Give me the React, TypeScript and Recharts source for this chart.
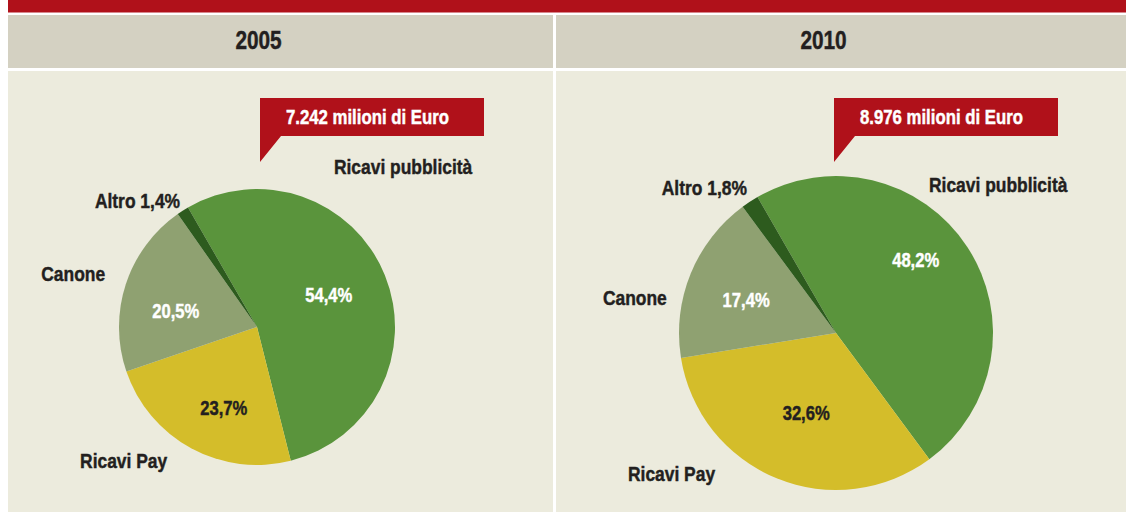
import React from 'react';
import { PieChart, Pie, Cell } from 'recharts';

const categories = ['Ricavi pubblicità', 'Ricavi Pay', 'Canone', 'Altro'];
const share2005 = [54.4, 23.7, 20.5, 1.4];
const share2010 = [48.2, 32.6, 17.4, 1.8];
const years = ['2005', '2010'];
const totals = ['7.242 milioni di Euro', '8.976 milioni di Euro'];

const COLORS = ['#5a943c', '#d4bd2a', '#8fa171', '#2d5b1e'];
const INNER_TEXT = ['#ffffff', '#231f20', '#ffffff', '#ffffff'];
const DARK = '#231f20';
const RED = '#b0111a';
const FONT = "'Liberation Sans', Arial, sans-serif";
const SX = 0.83;

const fmt = (v: number) => v.toFixed(1).replace('.', ',') + '%';

type OuterCfg = { angle: number; gap: number; anchor: 'start' | 'end' };
type InnerCfg = { dAngle: number; ratio: number } | null;

function CText(props: { x: number; y: number; anchor?: string; size: number; fill: string; dy?: string; sx?: number; children: any }) {
  const { x, y, anchor = 'start', size, fill, dy, sx = SX, children } = props;
  return (
    <text transform={`translate(${x},${y}) scale(${sx},1)`} x={0} y={0} dy={dy} textAnchor={anchor as any} fill={fill}
      stroke={fill} strokeWidth={0.45}
      style={{ fontFamily: FONT, fontWeight: 700, fontSize: size }}>
      {children}
    </text>
  );
}

const layouts = [
  {
    cx: 257, cy: 327, r: 138,
    headerX: 258.5, calloutX: 260,
    outer: [
      { angle: 64.4, gap: 40, anchor: 'start' },
      { angle: -123.9, gap: 23, anchor: 'end' },
      { angle: 160.6, gap: 23, anchor: 'end' },
      { angle: 121.2, gap: 10.5, anchor: 'end' },
    ] as OuterCfg[],
    inner: [
      { dAngle: 2.2, ratio: 0.57 },
      { dAngle: 6, ratio: 0.63 },
      { dAngle: 6.8, ratio: 0.6 },
      null,
    ] as InnerCfg[],
  },
  {
    cx: 836, cy: 333, r: 157,
    headerX: 823.5, calloutX: 834,
    outer: [
      { angle: 57.9, gap: 18, anchor: 'start' },
      { angle: -130.8, gap: 28, anchor: 'end' },
      { angle: 168, gap: 16, anchor: 'end' },
      { angle: 121.4, gap: 14, anchor: 'end' },
    ] as OuterCfg[],
    inner: [
      { dAngle: 9.4, ratio: 0.69 },
      { dAngle: 1.6, ratio: 0.54 },
      { dAngle: 2, ratio: 0.61 },
      null,
    ] as InnerCfg[],
  },
];

const RAD = Math.PI / 180;

function makeLabel(li: number) {
  const lay = layouts[li];
  return (props: any) => {
    const { cx, cy, midAngle, outerRadius, index, value, name } = props;
    const o = lay.outer[index];
    const ro = outerRadius + o.gap;
    const ox = cx + ro * Math.cos(o.angle * RAD);
    const oy = cy - ro * Math.sin(o.angle * RAD);
    const outerText = name === 'Altro' ? `${name} ${fmt(value)}` : name;
    const inn = lay.inner[index];
    let innerEl = null;
    if (inn) {
      const a = (midAngle + inn.dAngle) * RAD;
      const ri = outerRadius * inn.ratio;
      const ix = cx + ri * Math.cos(a);
      const iy = cy - ri * Math.sin(a);
      innerEl = (
        <CText x={ix} y={iy} dy="0.36em" anchor="middle" fill={INNER_TEXT[index]} size={20}>
          {fmt(value)}
        </CText>
      );
    }
    return (
      <g>
        {innerEl}
        <CText x={ox} y={oy} dy="0.36em" anchor={o.anchor} fill={DARK} size={21}>
          {outerText}
        </CText>
      </g>
    );
  };
}

const data2005 = categories.map((name, i) => ({ name, value: share2005[i] }));
const data2010 = categories.map((name, i) => ({ name, value: share2010[i] }));
const datasets = [data2005, data2010];

export default function App() {
  return (
    <div style={{ position: 'absolute', left: 0, top: 0, width: 1126, height: 512, background: '#ffffff', overflow: 'hidden' }}>
      <svg width={1126} height={512} style={{ position: 'absolute', left: 0, top: 0 }}>
        <rect x={8} y={0} width={1118} height={12.5} fill={RED} />
        <rect x={8} y={15} width={545} height={53} fill="#d4d1c2" />
        <rect x={556} y={15} width={570} height={53} fill="#d4d1c2" />
        <rect x={8} y={71} width={545} height={441} fill="#ecebdd" />
        <rect x={556} y={71} width={570} height={441} fill="#ecebdd" />
        {layouts.map((lay, i) => (
          <g key={i}>
            <CText x={lay.headerX} y={49} anchor="middle" fill={DARK} size={26} sx={0.8}>
              {years[i]}
            </CText>
            <polygon
              points={`${lay.calloutX},98 ${lay.calloutX + 224},98 ${lay.calloutX + 224},136 ${lay.calloutX + 21},136 ${lay.calloutX},162`}
              fill={RED}
            />
            <CText x={lay.calloutX + 26} y={123.5} anchor="start" fill="#ffffff" size={20.2}>
              {totals[i]}
            </CText>
          </g>
        ))}
      </svg>
      <div style={{ position: 'absolute', left: 0, top: 0 }}>
        <PieChart width={1126} height={512} margin={{ top: 0, right: 0, bottom: 0, left: 0 }}>
          {datasets.map((d, i) => (
            <Pie
              key={years[i]}
              data={d}
              dataKey="value"
              nameKey="name"
              cx={layouts[i].cx}
              cy={layouts[i].cy}
              innerRadius={0}
              outerRadius={layouts[i].r}
              startAngle={120}
              endAngle={-240}
              stroke="none"
              labelLine={false}
              label={makeLabel(i)}
              isAnimationActive={false}
            >
              {d.map((_, j) => (
                <Cell key={j} fill={COLORS[j]} />
              ))}
            </Pie>
          ))}
        </PieChart>
      </div>
    </div>
  );
}
